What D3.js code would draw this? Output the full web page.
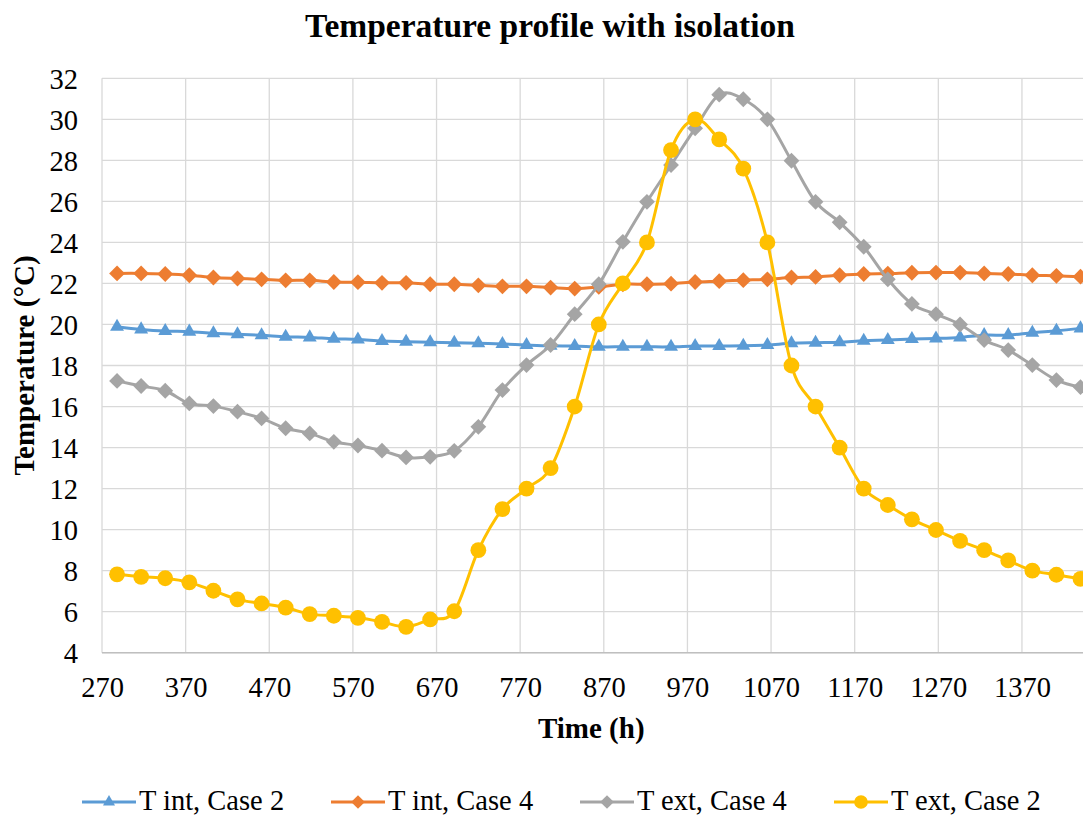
<!DOCTYPE html>
<html>
<head>
<meta charset="utf-8">
<script src="https://cdn.jsdelivr.net/npm/d3@7"></script>
<style>
  html, body { margin: 0; padding: 0; background: #fff; }
  svg { display: block; }
  text { font-family: "Liberation Serif", "Times New Roman", serif; fill: #000; }
</style>
</head>
<body>
<svg id="chart" width="1083" height="816"></svg>
<script>
// ---- data ----
const time = [288, 316.8, 345.6, 374.4, 403.2, 432, 460.8, 489.6, 518.4, 547.2, 576, 604.8, 633.6, 662.4,
  691.2, 720, 748.8, 777.6, 806.4, 835.2, 864, 892.8, 921.6, 950.4, 979.2, 1008, 1036.8, 1065.6, 1094.4,
  1123.2, 1152, 1180.8, 1209.6, 1238.4, 1267.2, 1296, 1324.8, 1353.6, 1382.4, 1411.2, 1440];

const tIntCase2 = [19.89, 19.76, 19.68, 19.65, 19.57, 19.52, 19.47, 19.40, 19.37, 19.30, 19.27, 19.19, 19.16, 19.13,
  19.11, 19.08, 19.05, 19.00, 18.96, 18.95, 18.91, 18.91, 18.91, 18.91, 18.95, 18.95, 18.96, 19.00, 19.08,
  19.11, 19.13, 19.21, 19.24, 19.29, 19.32, 19.37, 19.48, 19.48, 19.60, 19.69, 19.81];

const tIntCase4 = [22.49, 22.49, 22.46, 22.40, 22.29, 22.24, 22.20, 22.15, 22.15, 22.07, 22.06, 22.03, 22.03, 21.96,
  21.96, 21.91, 21.86, 21.86, 21.80, 21.75, 21.83, 21.96, 21.96, 21.99, 22.07, 22.11, 22.16, 22.20, 22.29,
  22.32, 22.40, 22.46, 22.48, 22.52, 22.53, 22.53, 22.49, 22.46, 22.40, 22.37, 22.33];

const tExtCase4 = [17.25, 17.0, 16.77, 16.15, 16.02, 15.75, 15.42, 14.94, 14.69, 14.28, 14.1, 13.85, 13.52, 13.55,
  13.84, 15.01, 16.8, 18.02, 19.0, 20.5, 21.96, 24.03, 25.98, 27.77, 29.56, 31.2, 30.98, 30.0, 27.98,
  25.98, 24.98, 23.79, 22.2, 21.0, 20.5, 20.0, 19.24, 18.75, 18.02, 17.29, 16.95];

const tExtCase2 = [7.82, 7.7, 7.63, 7.43, 7.02, 6.6, 6.4, 6.2, 5.88, 5.8, 5.7, 5.5, 5.26, 5.62,
  6.02, 9.0, 11.0, 12.0, 13.0, 16.0, 20.0, 22.0, 24.0, 28.5, 30.0, 29.02, 27.6, 24.0, 18.0,
  16.0, 14.0, 12.0, 11.2, 10.5, 9.98, 9.45, 9.0, 8.5, 8.0, 7.8, 7.6];

const xTicks = [270, 370, 470, 570, 670, 770, 870, 970, 1070, 1170, 1270, 1370];
const yTicks = [4, 6, 8, 10, 12, 14, 16, 18, 20, 22, 24, 26, 28, 30, 32];

const seriesNames = ["T int, Case 2", "T int, Case 4", "T ext, Case 4", "T ext, Case 2"];
const seriesColors = ["#5B9BD5", "#ED7D31", "#A5A5A5", "#FFC000"];
const seriesMarkers = ["triangle", "diamond", "diamond", "circle"];
const seriesValues = [tIntCase2, tIntCase4, tExtCase4, tExtCase2];

(function () {
const FONT = '"Liberation Serif", "Times New Roman", serif';
const svg = d3.select("#chart");
const pLeft = 102, pRight = 1080.5, pTop = 78.3, pBottom = 652.7;

const x = d3.scaleLinear().domain([270, 1440]).range([pLeft, pRight]);
const y = d3.scaleLinear().domain([4, 32]).range([pBottom, pTop]);

const grid = svg.append("g");
grid.selectAll("line.h").data(yTicks).join("line")
  .attr("x1", pLeft).attr("x2", 1083)
  .attr("y1", d => y(d)).attr("y2", d => y(d))
  .attr("stroke", "#D9D9D9").attr("stroke-width", 1.3);
grid.selectAll("line.v").data(xTicks).join("line")
  .attr("x1", d => x(d)).attr("x2", d => x(d))
  .attr("y1", pTop).attr("y2", pBottom)
  .attr("stroke", "#D9D9D9").attr("stroke-width", 1.3);
svg.append("line").attr("x1", pLeft).attr("x2", 1083).attr("y1", pBottom).attr("y2", pBottom)
  .attr("stroke", "#BFBFBF").attr("stroke-width", 1.5);

const xAxis = svg.append("g").attr("transform", `translate(0,${pBottom})`)
  .call(d3.axisBottom(x).tickValues(xTicks).tickSize(0).tickPadding(10).tickFormat(d3.format("d")));
xAxis.attr("font-family", FONT);
xAxis.select(".domain").remove();
xAxis.selectAll("text").attr("font-size", 28.5).attr("dy", "1.2em")
  .attr("font-family", FONT).attr("fill", "#000");

const yAxis = svg.append("g").attr("transform", `translate(${pLeft},0)`)
  .call(d3.axisLeft(y).tickValues(yTicks).tickSize(0).tickPadding(24).tickFormat(d3.format("d")));
yAxis.attr("font-family", FONT);
yAxis.select(".domain").remove();
yAxis.selectAll("text").attr("font-size", 28.5).attr("dy", "0.35em")
  .attr("font-family", FONT).attr("fill", "#000");

svg.append("text").attr("x", 550).attr("y", 37).attr("text-anchor", "middle")
  .attr("font-family", FONT).attr("font-size", 33.5).attr("font-weight", "bold")
  .text("Temperature profile with isolation");

svg.append("text").attr("x", (pLeft + pRight) / 2).attr("y", 738).attr("text-anchor", "middle")
  .attr("font-family", FONT).attr("font-size", 29).attr("font-weight", "bold").text("Time (h)");
svg.append("text").attr("transform", `translate(34,${(pTop + pBottom) / 2}) rotate(-90)`)
  .attr("text-anchor", "middle").attr("font-family", FONT).attr("font-size", 29).attr("font-weight", "bold")
  .text("Temperature (°C)");

function symbolPath(kind, scale) {
  if (kind === "triangle") return d3.symbol().type(d3.symbolTriangle).size(84 * scale)();
  if (kind === "diamond") return d3.symbol().type(d3.symbolSquare).size(125 * scale)();
  return d3.symbol().type(d3.symbolCircle).size(Math.PI * 7.9 * 7.9 * scale)();
}

const line = d3.line().curve(d3.curveCatmullRom.alpha(0));

seriesValues.forEach((vals, s) => {
  const pts = time.map((t, i) => [x(t), y(vals[i])]);
  const g = svg.append("g");
  g.append("path").attr("d", line(pts)).attr("fill", "none")
    .attr("stroke", seriesColors[s]).attr("stroke-width", 3).attr("stroke-linejoin", "round");
  const isDiamond = seriesMarkers[s] === "diamond";
  g.selectAll("path.m").data(pts).join("path").attr("class", "m")
    .attr("d", symbolPath(seriesMarkers[s], 1))
    .attr("transform", d => `translate(${d[0]},${d[1]})` + (isDiamond ? " rotate(45)" : ""))
    .attr("fill", seriesColors[s]);
});

const legendX = [82, 331, 580, 834];
const legendY = 802;
seriesNames.forEach((name, s) => {
  const g = svg.append("g").attr("transform", `translate(${legendX[s]},${legendY})`);
  g.append("line").attr("x1", 0).attr("x2", 54).attr("y1", 0).attr("y2", 0)
    .attr("stroke", seriesColors[s]).attr("stroke-width", 3);
  const isDiamond = seriesMarkers[s] === "diamond";
  g.append("path").attr("d", symbolPath(seriesMarkers[s], 0.75))
    .attr("transform", `translate(27,0)` + (isDiamond ? " rotate(45)" : ""))
    .attr("fill", seriesColors[s]);
  g.append("text").attr("x", 57).attr("y", 7.5)
    .attr("font-family", FONT).attr("font-size", 28.5).text(name);
});
})();
</script>
</body>
</html>
